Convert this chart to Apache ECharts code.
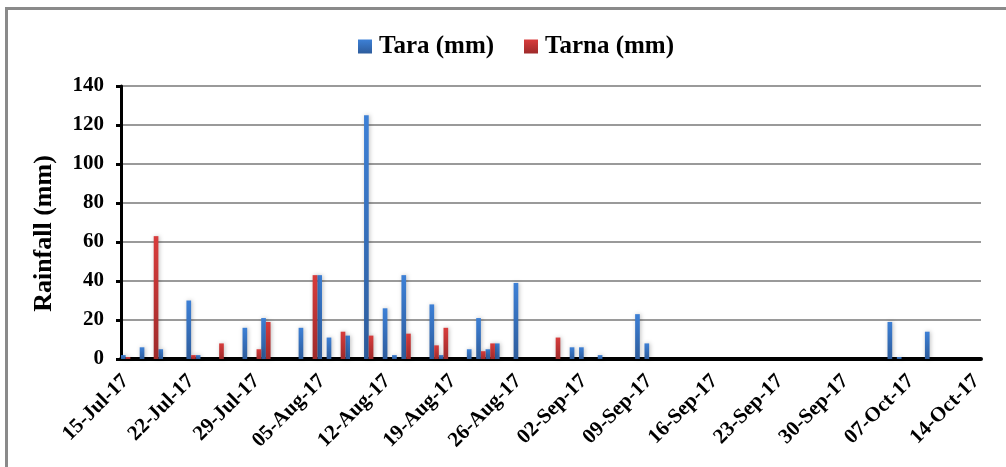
<!DOCTYPE html>
<html>
<head>
<meta charset="utf-8">
<script src="https://cdn.jsdelivr.net/npm/echarts@6/dist/echarts.min.js"></script>
<style>
  html, body { margin: 0; padding: 0; background: #fff; }
  #frame { position: absolute; left: 5px; top: 7px; width: 1010px; height: 480px;
           border-left: 3px solid #8a8a8a; border-top: 3px solid #8a8a8a; }
  #chart { position: absolute; left: 0; top: 0; width: 1006px; height: 467px; }
</style>
</head>
<body>
<div id="frame"></div>
<div id="chart"></div>
<script>
// Daily rainfall, 15-Jul-17 .. 14-Oct-17 (92 days)
const startDate = '2017-07-15';
const dayCount = 92;
const seriesNames = ['Tara (mm)', 'Tarna (mm)'];
const yAxisTitle = 'Rainfall (mm)';
const tara = [
  2, 0, 6, 0, 5, 0, 0, 30, 2, 0,
  0, 0, 0, 16, 0, 21, 0, 0, 0, 16,
  0, 43, 11, 0, 12, 0, 125, 0, 26, 2,
  43, 0, 0, 28, 2, 0, 0, 5, 21, 5,
  8, 0, 39, 0, 0, 0, 0, 0, 6, 6,
  0, 2, 0, 0, 0, 23, 8, 0, 0, 0,
  0, 0, 0, 0, 0, 0, 0, 0, 0, 0,
  0, 0, 0, 0, 0, 0, 0, 0, 0, 0,
  0, 0, 19, 1, 0, 0, 14, 0, 0, 0,
  0, 0
];
const tarna = [
  1, 0, 0, 63, 0, 0, 0, 2, 0, 0,
  8, 0, 0, 0, 5, 19, 0, 0, 0, 0,
  43, 0, 0, 14, 0, 0, 12, 0, 0, 0,
  13, 0, 0, 7, 16, 0, 0, 0, 4, 8,
  0, 0, 0, 0, 0, 0, 11, 0, 0, 0,
  0, 0, 0, 0, 0, 0, 0, 0, 0, 0,
  0, 0, 0, 0, 0, 0, 0, 0, 0, 0,
  0, 0, 0, 0, 0, 0, 0, 0, 0, 0,
  0, 0, 0, 0, 0, 0, 0, 0, 0, 0,
  0, 0
];
const yTicks = [0, 20, 40, 60, 80, 100, 120, 140];

const months = ['Jan','Feb','Mar','Apr','May','Jun','Jul','Aug','Sep','Oct','Nov','Dec'];
const categories = [];
{
  const d0 = new Date(startDate + 'T00:00:00Z');
  for (let i = 0; i < dayCount; i++) {
    const d = new Date(d0.getTime() + i * 86400000);
    const dd = String(d.getUTCDate()).padStart(2, '0');
    const yy = String(d.getUTCFullYear()).slice(2);
    categories.push(dd + '-' + months[d.getUTCMonth()] + '-' + yy);
  }
}

const font = '"Liberation Serif", "Times New Roman", serif';
const blueGrad = new echarts.graphic.LinearGradient(0, 0, 0, 1, [
  { offset: 0, color: '#3d80d6' }, { offset: 1, color: '#2d5c9c' }]);
const redGrad = new echarts.graphic.LinearGradient(0, 0, 0, 1, [
  { offset: 0, color: '#d83c3c' }, { offset: 1, color: '#9e2a2a' }]);

const chart = echarts.init(document.getElementById('chart'), null, { renderer: 'canvas' });
chart.setOption({
  animation: false,
  backgroundColor: 'transparent',
  legend: {
    top: 29, left: 353,
    itemWidth: 14, itemHeight: 14, itemGap: 30,
    icon: 'rect',
    textStyle: { fontFamily: font, fontWeight: 'bold', fontSize: 25, color: '#000', padding: [0, 0, 0, 2] },
    data: seriesNames
  },
  graphic: [{
    type: 'text', left: 31, top: 'middle', rotation: Math.PI / 2,
    x: 0, y: 0,
    position: [45, 233],
    style: {
      text: yAxisTitle, fontFamily: font, fontWeight: 'bold', fontSize: 26, fill: '#000',
      textAlign: 'center', textVerticalAlign: 'middle'
    }
  }],
  grid: { left: 121, right: 25, top: 86, bottom: 108, containLabel: false },
  xAxis: {
    type: 'category',
    data: categories,
    boundaryGap: true,
    axisLine: { lineStyle: { color: '#000', width: 4 } },
    axisTick: { show: false },
    axisLabel: {
      interval: 6, rotate: 45, margin: 19,
      fontFamily: font, fontWeight: 'bold', fontSize: 21, color: '#000'
    },
    splitLine: { show: false }
  },
  yAxis: {
    type: 'value', min: yTicks[0], max: yTicks[yTicks.length - 1], interval: 20,
    axisLine: { show: true, lineStyle: { color: '#000', width: 3 } },
    axisTick: { show: true, length: 5, lineStyle: { color: '#000', width: 3 } },
    axisLabel: { margin: 17, fontFamily: font, fontWeight: 'bold', fontSize: 21, color: '#000' },
    splitLine: { lineStyle: { color: '#9a9a9a', width: 2 } }
  },
  series: [
    { name: seriesNames[0], type: 'bar', data: tara, barGap: '0%', barCategoryGap: '0%',
      itemStyle: { color: blueGrad, shadowColor: 'rgba(0,0,0,0.25)', shadowBlur: 4, shadowOffsetX: 1 } },
    { name: seriesNames[1], type: 'bar', data: tarna, barGap: '0%', barCategoryGap: '0%',
      itemStyle: { color: redGrad, shadowColor: 'rgba(0,0,0,0.25)', shadowBlur: 4, shadowOffsetX: 1 } }
  ]
});
</script>
</body>
</html>
